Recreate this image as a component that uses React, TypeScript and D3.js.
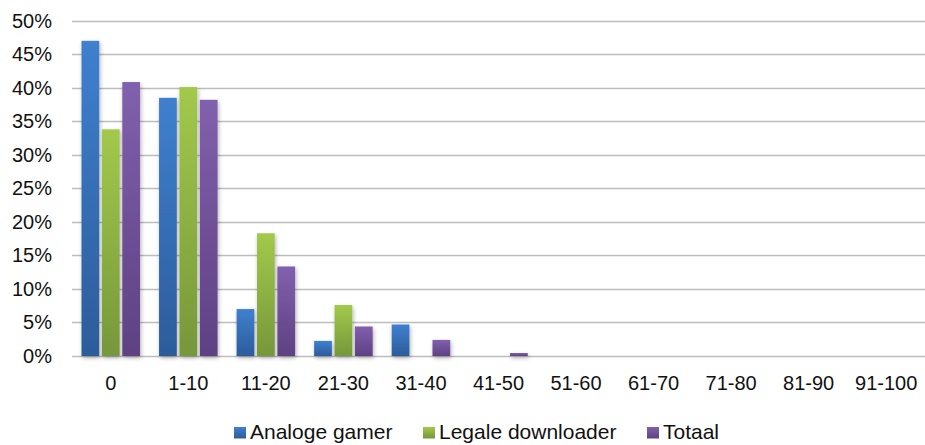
import * as d3 from "d3";
import { useEffect, useRef } from "react";

const categories = ["0", "1-10", "11-20", "21-30", "31-40", "41-50", "51-60", "61-70", "71-80", "81-90", "91-100"];
const seriesNames = ["Analoge gamer", "Legale downloader", "Totaal"];
const analogeGamer = [47.0, 38.5, 7.0, 2.25, 4.7, 0, 0, 0, 0, 0, 0];
const legaleDownloader = [33.8, 40.1, 18.3, 7.6, 0, 0, 0, 0, 0, 0, 0];
const totaal = [40.85, 38.2, 13.35, 4.4, 2.4, 0.45, 0, 0, 0, 0, 0];
const yTicks = [0, 5, 10, 15, 20, 25, 30, 35, 40, 45, 50];

const colors = [
  { top: "#3f80cf", bottom: "#2c5c9b" },
  { top: "#a2c94c", bottom: "#76973a" },
  { top: "#8160ad", bottom: "#5e4183" },
];

export default function App() {
  const ref = useRef<SVGSVGElement | null>(null);
  useEffect(() => {
    if (!ref.current) return;
    const svg = d3.select(ref.current);
    svg.selectAll("*").remove();
    const w = 925;
    const left = 72;
    const top = 20.7;
    const bottom = 356;
    const values = [analogeGamer, legaleDownloader, totaal];
    const font = "'Liberation Sans', Arial, sans-serif";

    const x = d3.scaleBand<string>().domain(categories).range([left, w]).padding(0);
    const x1 = d3
      .scaleBand<number>()
      .domain([0, 1, 2])
      .range([9.5, x.bandwidth() - 9.5])
      .paddingInner(0.13)
      .paddingOuter(0);
    const y = d3.scaleLinear().domain([0, 50]).range([bottom, top]);

    const defs = svg.append("defs");
    colors.forEach((c, i) => {
      const g = defs.append("linearGradient").attr("id", `bar${i}`).attr("x1", "0").attr("y1", "0").attr("x2", "0").attr("y2", "1");
      g.append("stop").attr("offset", "0%").attr("stop-color", c.top);
      g.append("stop").attr("offset", "100%").attr("stop-color", c.bottom);
    });
    const f = defs.append("filter").attr("id", "shadow").attr("x", "-30%").attr("y", "-10%").attr("width", "160%").attr("height", "130%");
    f.append("feDropShadow").attr("dx", 1).attr("dy", 2).attr("stdDeviation", 2).attr("flood-color", "#000").attr("flood-opacity", 0.3);

    // gridlines
    svg
      .append("g")
      .selectAll("line")
      .data(yTicks)
      .join("line")
      .attr("x1", left)
      .attr("x2", w)
      .attr("y1", (d) => Math.round(y(d)) + 0.5)
      .attr("y2", (d) => Math.round(y(d)) + 0.5)
      .attr("stroke", "#bdbdbd")
      .attr("stroke-width", 1.6);

    // y labels
    svg
      .append("g")
      .selectAll("text")
      .data(yTicks)
      .join("text")
      .attr("x", 52)
      .attr("y", (d) => y(d))
      .attr("dy", "0.35em")
      .attr("text-anchor", "end")
      .attr("font-family", font)
      .attr("font-size", 20)
      .attr("fill", "#111")
      .text((d) => `${d}%`);

    // bars
    values.forEach((series, s) => {
      svg
        .append("g")
        .attr("filter", "url(#shadow)")
        .selectAll("rect")
        .data(series.map((v, i) => ({ v, c: categories[i] })).filter((d) => d.v > 0))
        .join("rect")
        .attr("x", (d) => (x(d.c) ?? 0) + (x1(s) ?? 0))
        .attr("y", (d) => y(d.v))
        .attr("width", x1.bandwidth())
        .attr("height", (d) => bottom - y(d.v))
        .attr("fill", `url(#bar${s})`);
    });

    // x labels
    svg
      .append("g")
      .selectAll("text")
      .data(categories)
      .join("text")
      .attr("x", (d) => (x(d) ?? 0) + x.bandwidth() / 2)
      .attr("y", 389.5)
      .attr("text-anchor", "middle")
      .attr("font-family", font)
      .attr("font-size", 20)
      .attr("fill", "#111")
      .text((d) => d);

    // legend
    const legendX = [234, 423, 647];
    const lg = svg.append("g");
    seriesNames.forEach((name, i) => {
      lg.append("rect")
        .attr("x", legendX[i])
        .attr("y", 427)
        .attr("width", 12)
        .attr("height", 11.5)
        .attr("fill", `url(#bar${i})`);
      lg.append("text")
        .attr("x", legendX[i] + 16)
        .attr("y", 439)
        .attr("font-family", font)
        .attr("font-size", 21)
        .attr("fill", "#111")
        .text(name);
    });
  }, []);
  return (
    <svg
      ref={ref}
      width={925}
      height={445}
      viewBox="0 0 925 445"
      style={{ position: "absolute", left: 0, top: 0, display: "block", background: "#fff" }}
    />
  );
}
